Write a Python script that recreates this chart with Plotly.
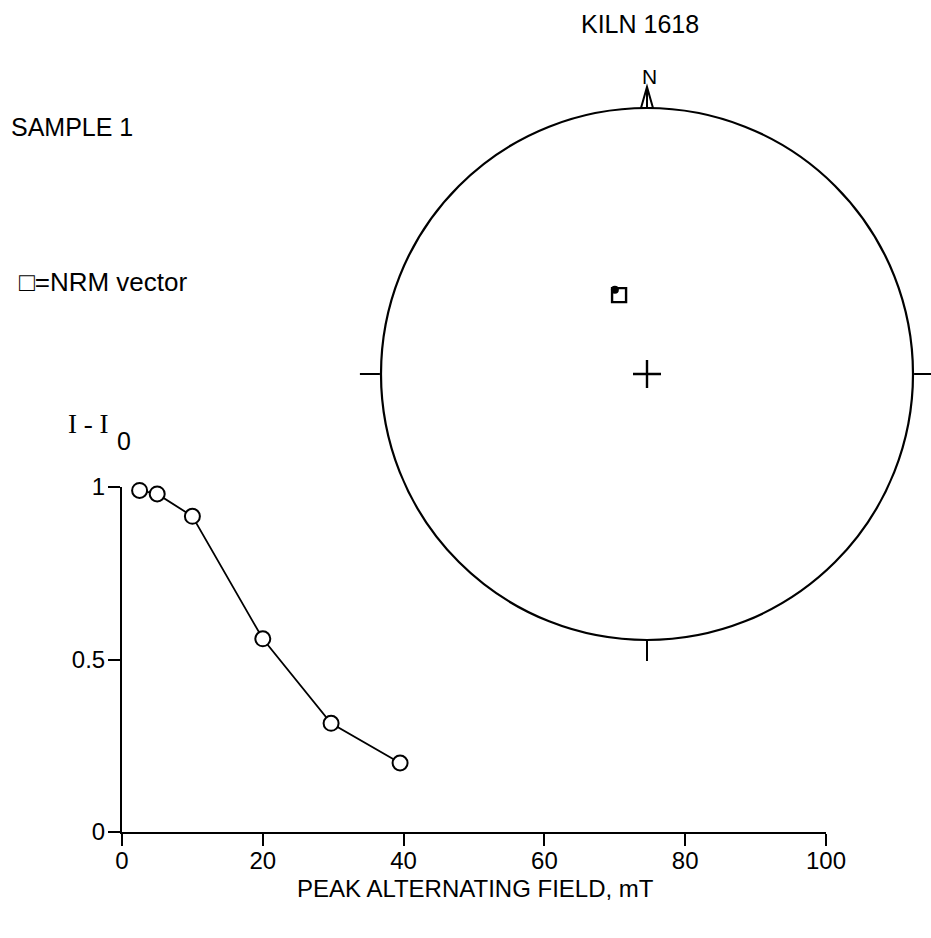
import numpy as np
import plotly.graph_objects as go

# ---- data ----
field_mT = [2.5, 5, 10, 20, 29.7, 39.5]
intensity_ratio = [0.99, 0.98, 0.915, 0.56, 0.315, 0.20]
x_ticks = [0, 20, 40, 60, 80, 100]
y_ticks = [0, 0.5, 1]
y_ticklabels = ["0", "0.5", "1"]

# stereonet directions (declination, inclination in degrees)
mean_dec = [339.1]
mean_inc = [62.3]
nrm_dec = [340.5]
nrm_inc = [64.3]

W, H = 931, 938
FONT = "Liberation Sans, Arial, sans-serif"


def eq_area(inc):
    inc = np.asarray(inc, dtype=float)
    return np.sqrt(2) * np.sin(np.radians(90 - inc) / 2)


def px(x, y):
    return x / W, 1 - y / H


fig = go.Figure()

# decay curve
fig.add_trace(go.Scatter(
    x=field_mT, y=intensity_ratio, mode="lines+markers",
    line=dict(color="black", width=1.8),
    marker=dict(symbol="circle", size=15, color="white",
                line=dict(color="black", width=2)),
    cliponaxis=False, xaxis="x", yaxis="y"))

# stereonet
fig.add_trace(go.Scatterpolar(
    r=[0], theta=[0], mode="markers",
    marker=dict(symbol="cross-thin", size=20, line=dict(color="black", width=2.4))))
fig.add_trace(go.Scatterpolar(
    r=eq_area(nrm_inc), theta=nrm_dec, mode="markers",
    marker=dict(symbol="square-open", size=14, color="black", line=dict(width=2.4))))
fig.add_trace(go.Scatterpolar(
    r=eq_area(mean_inc), theta=mean_dec, mode="markers",
    marker=dict(symbol="circle", size=8, color="black")))

cx, cy, R = 647, 374, 266
fig.update_layout(
    width=W, height=H, margin=dict(l=0, r=0, t=0, b=0, autoexpand=False),
    paper_bgcolor="white", plot_bgcolor="white", showlegend=False,
    font=dict(family=FONT, color="black"),
    xaxis=dict(domain=[122 / W, 826 / W], range=[0, 100], tickvals=x_ticks,
               ticks="outside", ticklen=12, tickwidth=2, tickcolor="black",
               showline=True, linewidth=2, linecolor="black", showgrid=False,
               zeroline=False, tickfont=dict(size=24, family=FONT), anchor="y",
               automargin=False, ticklabelstandoff=-6),
    yaxis=dict(domain=[1 - 832 / H, 1 - 487 / H], range=[0, 1], tickvals=y_ticks,
               ticktext=y_ticklabels,
               ticks="outside", ticklen=12, tickwidth=2, tickcolor="black",
               showline=True, linewidth=2, linecolor="black", showgrid=False,
               zeroline=False, tickfont=dict(size=24, family=FONT), anchor="x",
               automargin=False, ticklabelstandoff=-2),
    polar=dict(
        domain=dict(x=[(cx - R) / W, (cx + R) / W], y=[1 - (cy + R) / H, 1 - (cy - R) / H]),
        bgcolor="white",
        radialaxis=dict(visible=False, range=[0, 1]),
        angularaxis=dict(direction="clockwise", rotation=90, showgrid=False,
                         showticklabels=False, ticks="outside", tickvals=[90, 180, 270],
                         ticklen=20, tickwidth=2.2, tickcolor="black",
                         linecolor="black", linewidth=2.2),
    ),
)

# N arrow
ax0, ay0 = px(641, 108)
ax1, ay1 = px(647, 87)
ax2, ay2 = px(653, 108)
fig.add_shape(type="path", xref="paper", yref="paper",
              path=f"M {ax0} {ay0} L {ax1} {ay1} L {ax2} {ay2} Z",
              line=dict(color="black", width=2), fillcolor="white")
lx0, ly0 = px(647, 89)
lx1, ly1 = px(647, 108)
fig.add_shape(type="line", xref="paper", yref="paper", x0=lx0, y0=ly0, x1=lx1, y1=ly1,
              line=dict(color="black", width=2))


def label(text, x, y, size=22, family=FONT, xanchor="center"):
    xx, yy = px(x, y)
    fig.add_annotation(text=text, x=xx, y=yy, xref="paper", yref="paper",
                       showarrow=False, xanchor=xanchor, yanchor="middle",
                       font=dict(size=size, family=family, color="black"))


label("N", 649, 76, size=21)
label("KILN 1618", 640, 24, size=25)
label("SAMPLE 1", 9, 127, size=25, xanchor="left")
label("\u25a1=NRM vector", 17, 282, size=26, xanchor="left")
label("PEAK ALTERNATING FIELD, mT", 475, 888, size=24)
label("I - I", 66, 424, size=27, family="Liberation Serif, Times New Roman, serif", xanchor="left")
label("0", 124, 441, size=25)

fig.write_html("out.html")
